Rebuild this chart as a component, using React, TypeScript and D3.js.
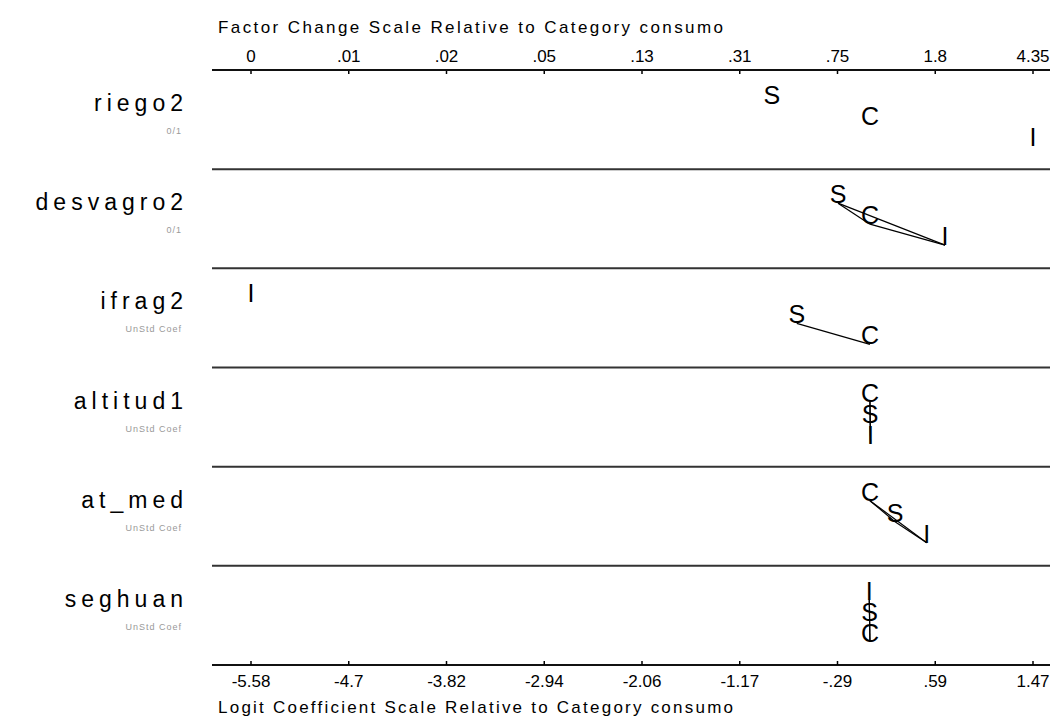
import React from "react";
import * as d3 from "d3";

const variables = ["riego2", "desvagro2", "ifrag2", "altitud1", "at_med", "seghuan"];
const subtitles = ["0/1", "0/1", "UnStd Coef", "UnStd Coef", "UnStd Coef", "UnStd Coef"];
const outcomeLetters = ["S", "C", "I"];
const coefS = [-0.885, -0.288, -0.66, 0.002, 0.226, -0.003];
const coefC = [0, 0, 0, 0, 0, 0];
const coefI = [1.47, 0.677, -5.58, 0.005, 0.512, -0.006];
const connections: string[][][] = [
  [],
  [["S", "C"], ["C", "I"], ["S", "I"]],
  [["S", "C"]],
  [["C", "S"], ["S", "I"], ["C", "I"]],
  [["C", "S"], ["S", "I"], ["C", "I"]],
  [["I", "S"], ["S", "C"], ["I", "C"]],
];
const topTickLabels = ["0", ".01", ".02", ".05", ".13", ".31", ".75", "1.8", "4.35"];
const bottomTickLabels = ["-5.58", "-4.7", "-3.82", "-2.94", "-2.06", "-1.17", "-.29", ".59", "1.47"];
const topTitle = "Factor Change Scale Relative to Category consumo";
const bottomTitle = "Logit Coefficient Scale Relative to Category consumo";

const W = 1050;
const H = 718;
const LEFT = 212;
const TOP = 70;
const BOTTOM = 665;
const LOGIT_MIN = -5.58;
const LOGIT_MAX = 1.47;

export default function App() {
  const x = d3.scaleLinear().domain([LOGIT_MIN, LOGIT_MAX]).range([251, 1033]);
  const ticks = d3.range(9).map((i) => LOGIT_MIN + (i * (LOGIT_MAX - LOGIT_MIN)) / 8);
  const panel = d3.scaleBand<number>().domain(d3.range(variables.length)).range([TOP, BOTTOM]);
  const slots = [34, 55, 76];
  const labelFont = "'Liberation Sans', Arial, sans-serif";

  return (
    <svg
      width={W}
      height={H}
      style={{ position: "absolute", left: 0, top: 0, background: "#fff" }}
      fontFamily={labelFont}
    >
      <rect width={W} height={H} fill="#fff" />
      {/* top axis */}
      <text x={218} y={33} fontSize={17} textLength={505} lengthAdjust="spacing" fill="#000">
        {topTitle}
      </text>
      {ticks.map((t, i) => (
        <g key={"tt" + i}>
          <text x={x(t)} y={62} fontSize={17} textAnchor="middle" fill="#000">
            {topTickLabels[i]}
          </text>
          <line x1={x(t)} x2={x(t)} y1={TOP} y2={TOP + 4} stroke="#000" strokeWidth={1.5} />
        </g>
      ))}
      <line x1={LEFT} x2={W} y1={TOP} y2={TOP} stroke="#111" strokeWidth={2} />
      {/* bottom axis */}
      <line x1={LEFT} x2={W} y1={BOTTOM} y2={BOTTOM} stroke="#111" strokeWidth={2} />
      {ticks.map((t, i) => (
        <g key={"bt" + i}>
          <line x1={x(t)} x2={x(t)} y1={BOTTOM - 4} y2={BOTTOM} stroke="#000" strokeWidth={1.5} />
          <text x={x(t)} y={687} fontSize={17} textAnchor="middle" fill="#000">
            {bottomTickLabels[i]}
          </text>
        </g>
      ))}
      <text x={218} y={713} fontSize={17} textLength={515} lengthAdjust="spacing" fill="#000">
        {bottomTitle}
      </text>
      {/* panels */}
      {variables.map((v, i) => {
        const top = panel(i) as number;
        const vals: Record<string, number> = { S: coefS[i], C: coefC[i], I: coefI[i] };
        const order = [...outcomeLetters].sort((a, b) => vals[a] - vals[b]);
        const pos: Record<string, [number, number]> = {};
        order.forEach((l, r) => {
          pos[l] = [x(vals[l]), top + slots[r]];
        });
        return (
          <g key={v}>
            {i > 0 && (
              <line x1={LEFT} x2={W} y1={top} y2={top} stroke="#333" strokeWidth={2} />
            )}
            <text
              x={188}
              y={top + 41}
              fontSize={23}
              letterSpacing={5}
              textAnchor="end"
              fill="#000"
            >
              {v}
            </text>
            <text
              x={182}
              y={top + 64}
              fontSize={9}
              letterSpacing={1}
              textAnchor="end"
              fill="#999"
            >
              {subtitles[i]}
            </text>
            {connections[i].map(([a, b], k) => (
              <line
                key={k}
                x1={pos[a][0]}
                y1={pos[a][1]}
                x2={pos[b][0]}
                y2={pos[b][1]}
                stroke="#000"
                strokeWidth={1.2}
              />
            ))}
            {outcomeLetters.map((l) => (
              <text
                key={l}
                x={pos[l][0]}
                y={pos[l][1]}
                fontSize={25}
                textAnchor="middle"
                fill="#000"
              >
                {l}
              </text>
            ))}
          </g>
        );
      })}
    </svg>
  );
}
